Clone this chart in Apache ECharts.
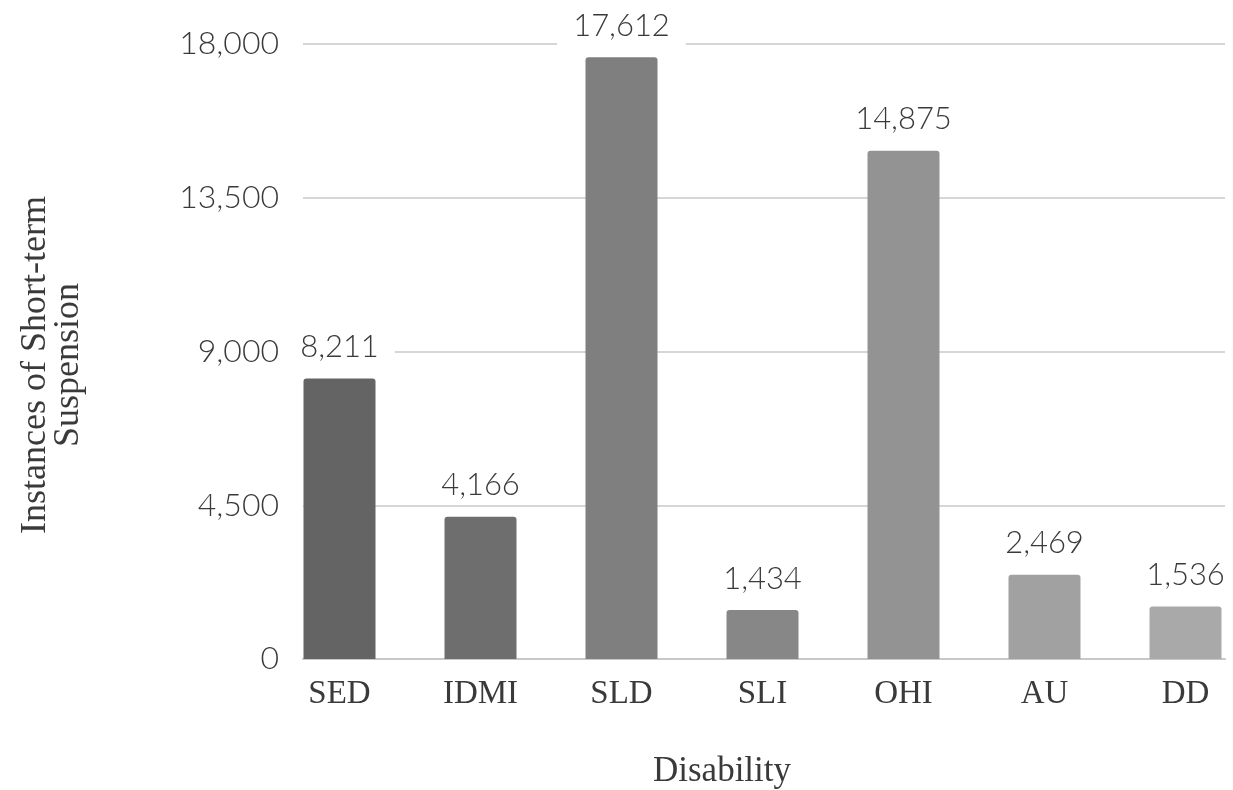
<!DOCTYPE html>
<html>
<head>
<meta charset="utf-8">
<script src="https://cdn.jsdelivr.net/npm/echarts@6/dist/echarts.min.js"></script>
<style>
html,body{margin:0;padding:0;background:#fff;}
#chart{width:1233px;height:790px;}
</style>
</head>
<body>
<div id="chart"></div>
<script>
const categories = ['SED', 'IDMI', 'SLD', 'SLI', 'OHI', 'AU', 'DD'];
const values = [8211, 4166, 17612, 1434, 14875, 2469, 1536];
const barColors = ['#646464', '#6e6e6e', '#7f7f7f', '#878787', '#939393', '#a1a1a1', '#a9a9a9'];
const yTicks = [0, 4500, 9000, 13500, 18000];

const numFont = 'Lato';
const serifFont = '"Liberation Serif", "DejaVu Serif", serif';
const textColor = '#3a3a3a';

const chart = echarts.init(document.getElementById('chart'), null, {renderer: 'canvas'});
chart.setOption({
  animation: false,
  backgroundColor: '#ffffff',
  grid: [
    {left: 269, width: 987, top: 44, bottom: 131, outerBoundsMode: 'none', containLabel: false},
    {left: 303, right: 8, top: 44, bottom: 131, outerBoundsMode: 'none', containLabel: false}
  ],
  xAxis: [
    {
      type: 'category', gridIndex: 0, data: categories,
      axisLine: {show: false}, axisTick: {show: false},
      axisLabel: {fontFamily: serifFont, fontSize: 33, color: textColor, margin: 19}
    },
    {
      type: 'value', gridIndex: 1, min: 0, max: 1,
      axisLine: {show: true, onZero: false, lineStyle: {color: '#c8c8c8', width: 2}},
      axisTick: {show: false}, axisLabel: {show: false}, splitLine: {show: false}
    }
  ],
  yAxis: [
    {
      type: 'value', gridIndex: 0, min: yTicks[0], max: yTicks[yTicks.length - 1], interval: 4500,
      show: false, splitLine: {show: false}
    },
    {
      type: 'value', gridIndex: 1, min: yTicks[0], max: yTicks[yTicks.length - 1], interval: 4500,
      axisLine: {show: false}, axisTick: {show: false},
      axisLabel: {
        fontFamily: numFont, fontWeight: 300, fontSize: 32, color: textColor, margin: 24,
        formatter: v => v.toLocaleString('en-US')
      },
      splitLine: {show: true, lineStyle: {color: '#c8c8c8', width: 1.5}}
    }
  ],
  series: [{
    type: 'bar', xAxisIndex: 0, yAxisIndex: 0, z: 5,
    barWidth: 72,
    data: values.map((v, i) => ({value: v, itemStyle: {color: barColors[i], borderRadius: [3, 3, 0, 0]}})),
    label: {
      show: true, position: 'top', distance: 12,
      fontFamily: numFont, fontWeight: 300, fontSize: 31, color: textColor,
      backgroundColor: '#ffffff', padding: [4, 16, 4, 16],
      formatter: p => p.value.toLocaleString('en-US')
    }
  }],
  graphic: [
    {
      type: 'text', x: 722, y: 772,
      style: {text: 'Disability', font: '35px "Liberation Serif", "DejaVu Serif", serif', fill: textColor,
        align: 'center', verticalAlign: 'middle'}
    },
    {
      type: 'text', x: 52, y: 365, rotation: Math.PI / 2,
      style: {
        text: 'Instances of Short-term\nSuspension', font: '36px "Liberation Serif", "DejaVu Serif", serif',
        fill: textColor, align: 'center', verticalAlign: 'middle', lineHeight: 33
      }
    }
  ]
});
</script>
</body>
</html>
